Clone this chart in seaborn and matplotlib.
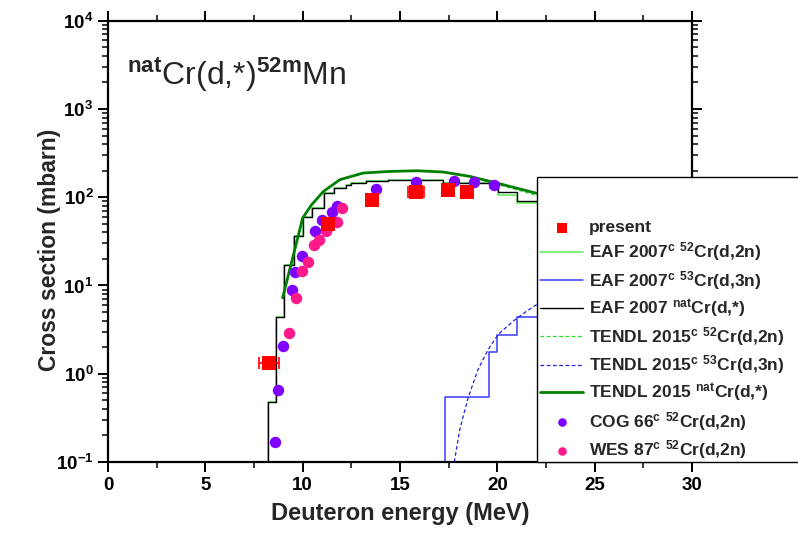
import numpy as np
import pandas as pd
import matplotlib
matplotlib.use('Agg')
import matplotlib.pyplot as plt
import seaborn as sns
from matplotlib.ticker import MultipleLocator, LogLocator, FuncFormatter, NullFormatter
from matplotlib.patches import Rectangle

# ---------------- data ----------------
present_E = [8.28, 11.28, 13.57, 15.82, 17.45, 18.45]
present_xs = [1.33, 50.0, 93.7, 116.0, 121.6, 114.5]
present_dE = [0.5, 0.3, 0.3, 0.42, 0.3, 0.3]

cog_E = [8.56, 8.73, 8.97, 9.47, 9.59, 9.98, 10.63, 10.97, 11.49, 11.74, 13.76, 15.82, 17.79, 18.81, 19.83]
cog_xs = [0.170, 0.652, 2.05, 8.83, 14.4, 21.8, 41.0, 54.7, 67.3, 78.7, 124.8, 148.6, 151.0, 148.6, 138.0]

wes_E = [9.30, 9.64, 9.95, 10.26, 10.58, 10.85, 11.18, 11.74, 12.00]
wes_xs = [2.86, 7.3, 14.5, 18.6, 28.5, 33.0, 41.0, 51.9, 75.5]

# EAF 2007 natCr(d,*)  (histogram: edges / levels)
eaf_nat_E = [8.20, 8.20, 8.61, 9.05, 9.53, 10.00, 10.46, 11.11, 11.62, 12.22, 12.48, 13.25, 14.40, 17.22, 19.62, 20.05, 20.99, 22.50]
eaf_nat_xs = [0.01, 0.477, 4.37, 17.1, 36.0, 59.7, 75.5, 111.7, 127.0, 136.0, 145.0, 151.0, 158.0, 145.0, 126.0, 115.0, 90.0, 90.0]

# EAF 2007 52Cr(d,2n)
eaf_52_E = [8.20, 8.20, 8.61, 9.05, 9.53, 10.00, 10.46, 11.11, 11.62, 12.22, 12.48, 13.25, 14.40, 17.22, 19.62, 20.05, 20.99, 22.50]
eaf_52_xs = [0.01, 0.477, 4.37, 17.1, 36.0, 59.7, 75.5, 111.7, 127.0, 136.0, 145.0, 151.0, 158.0, 145.0, 126.0, 106.0, 85.0, 85.0]

# EAF 2007 53Cr(d,3n)
eaf_53_E = [17.31, 17.31, 19.58, 19.99, 20.99, 22.50]
eaf_53_xs = [0.01, 0.543, 1.77, 2.78, 4.37, 4.37]

# TENDL 2015 natCr(d,*)
tendl_nat_E = [8.97, 9.86, 10.00, 10.46, 11.06, 11.91, 13.11, 14.49, 15.86, 17.22, 18.59, 19.96, 21.67, 22.50]
tendl_nat_xs = [7.24, 43.7, 58.2, 82.2, 116.0, 158.0, 188.0, 196.0, 199.5, 193.0, 172.0, 145.0, 116.0, 104.0]

# TENDL 2015 52Cr(d,2n)
tendl_52_E = [8.97, 9.86, 10.00, 10.46, 11.06, 11.91, 13.11, 14.49, 15.86, 17.22, 18.59, 19.96, 21.67, 22.50]
tendl_52_xs = [7.24, 43.7, 58.2, 82.2, 116.0, 158.0, 188.0, 196.0, 199.5, 192.0, 170.0, 141.0, 110.0, 97.0]

# TENDL 2015 53Cr(d,3n)
tendl_53_E = [17.79, 18.07, 18.50, 19.01, 19.53, 20.04, 20.81, 21.50, 22.02, 22.50]
tendl_53_xs = [0.10, 0.234, 0.535, 1.12, 1.88, 2.78, 3.94, 5.11, 6.08, 6.9]

x_ticks = [0, 5, 10, 15, 20, 25, 30]

# ---------------- style ----------------
sns.set_style('ticks')
plt.rcParams['font.family'] = ['Liberation Sans', 'DejaVu Sans']
plt.rcParams['font.weight'] = 'bold'
plt.rcParams['axes.labelweight'] = 'bold'
plt.rcParams['mathtext.fontset'] = 'custom'
plt.rcParams['mathtext.rm'] = 'Liberation Sans'
plt.rcParams['mathtext.it'] = 'Liberation Sans:italic'
plt.rcParams['mathtext.bf'] = 'Liberation Sans:bold'

W, H = 798, 544
fig = plt.figure(figsize=(W / 100, H / 100), dpi=100)
ax_l, ax_r, ax_t, ax_b = 108, 692, 20.7, 462
ax = fig.add_axes([ax_l / W, 1 - ax_b / H, (ax_r - ax_l) / W, (ax_b - ax_t) / H])
ax.set_yscale('log')

C_RED = '#ff0000'
C_LGREEN = '#66ee66'
C_BLUE = '#3a3aff'
C_DGREEN = '#008000'
C_PURPLE = '#8000ff'
C_PINK = '#ff1a8c'

lab_present = 'present'
lab_eaf52 = r'EAF 2007$^{\mathrm{c}}$ $^{\mathbf{52}}$Cr(d,2n)'
lab_eaf53 = r'EAF 2007$^{\mathrm{c}}$ $^{\mathbf{53}}$Cr(d,3n)'
lab_eafnat = r'EAF 2007 $^{\mathbf{nat}}$Cr(d,*)'
lab_t52 = r'TENDL 2015$^{\mathrm{c}}$ $^{\mathbf{52}}$Cr(d,2n)'
lab_t53 = r'TENDL 2015$^{\mathrm{c}}$ $^{\mathbf{53}}$Cr(d,3n)'
lab_tnat = r'TENDL 2015 $^{\mathbf{nat}}$Cr(d,*)'
lab_cog = r'COG 66$^{\mathrm{c}}$ $^{\mathbf{52}}$Cr(d,2n)'
lab_wes = r'WES 87$^{\mathrm{c}}$ $^{\mathbf{52}}$Cr(d,2n)'

sns.lineplot(x=eaf_52_E, y=eaf_52_xs, drawstyle='steps-post', estimator=None, sort=False,
             color=C_LGREEN, lw=1.2, label=lab_eaf52, ax=ax)
sns.lineplot(x=eaf_53_E, y=eaf_53_xs, drawstyle='steps-post', estimator=None, sort=False,
             color=C_BLUE, lw=1.1, label=lab_eaf53, ax=ax)
sns.lineplot(x=eaf_nat_E, y=eaf_nat_xs, drawstyle='steps-post', estimator=None, sort=False,
             color='black', lw=1.0, label=lab_eafnat, ax=ax)
sns.lineplot(x=tendl_52_E, y=tendl_52_xs, estimator=None, sort=False,
             color='#22dd22', lw=0.9, label=lab_t52, ax=ax)
ax.lines[-1].set_dashes((3, 2))
sns.lineplot(x=tendl_53_E, y=tendl_53_xs, estimator=None, sort=False,
             color='#2222dd', lw=0.9, label=lab_t53, ax=ax)
ax.lines[-1].set_dashes((3, 2))
sns.lineplot(x=tendl_nat_E, y=tendl_nat_xs, estimator=None, sort=False,
             color=C_DGREEN, lw=2.0, label=lab_tnat, ax=ax)

sns.scatterplot(x=cog_E, y=cog_xs, color=C_PURPLE, s=68, linewidth=0, label=lab_cog, ax=ax, zorder=4)
sns.scatterplot(x=wes_E, y=wes_xs, color=C_PINK, s=68, linewidth=0, label=lab_wes, ax=ax, zorder=4)
ax.errorbar(present_E, present_xs, xerr=present_dE, fmt='none', ecolor=C_RED, elinewidth=1.2,
            capsize=4, capthick=1.2, zorder=5)
sns.scatterplot(x=present_E, y=present_xs, color=C_RED, marker='s', s=100, linewidth=0,
                label=lab_present, ax=ax, zorder=6)

# ---------------- axes ----------------
ax.set_xlim(0, 30)
ax.set_ylim(0.1, 1e4)
ax.set_xticks(x_ticks)
ax.set_xticklabels([str(t) for t in x_ticks])
ax.xaxis.set_minor_locator(MultipleLocator(2.5))
ax.yaxis.set_major_locator(LogLocator(base=10, numticks=10))
ax.yaxis.set_minor_locator(LogLocator(base=10, subs=np.arange(2, 10), numticks=20))
ax.yaxis.set_minor_formatter(NullFormatter())
ax.yaxis.set_major_formatter(FuncFormatter(lambda v, p: r'$\mathbf{10^{%d}}$' % int(round(np.log10(v)))))

for sp in ax.spines.values():
    sp.set_visible(True)
    sp.set_linewidth(1.6)
    sp.set_color('black')

ax.tick_params(which='both', direction='out', top=True, right=True, colors='black')
ax.tick_params(which='major', length=7, width=1.4, labelsize=13.5, pad=3.5)
ax.tick_params(which='minor', length=4, width=1.1)

ax.set_xlabel('Deuteron energy (MeV)', fontsize=17, fontweight='bold')
ax.set_ylabel('Cross section (mbarn)', fontsize=16.5, fontweight='bold')
ax.xaxis.set_label_coords(0.5, (ax_b - 502) / (ax_b - ax_t))
ax.yaxis.set_label_coords((61 - ax_l) / (ax_r - ax_l), 0.48)

fig.text(127 / W, 1 - 85 / H, r'$^{\mathbf{nat}}$Cr(d,*)$^{\mathbf{52m}}$Mn',
         fontsize=23, fontweight='normal', va='baseline', ha='left')

# ---------------- legend ----------------
box = Rectangle(((537 - ax_l) / (ax_r - ax_l), 0), 0.6, (ax_b - 177) / (ax_b - ax_t),
                transform=ax.transAxes, facecolor='white', edgecolor='black', lw=1.0,
                clip_on=False, zorder=9)
ax.add_patch(box)

h, l = ax.get_legend_handles_labels()
hmap = dict(zip(l, h))
order = [lab_present, lab_eaf52, lab_eaf53, lab_eafnat, lab_t52, lab_t53, lab_tnat, lab_cog, lab_wes]
leg = ax.legend([hmap[k] for k in order], order, loc='upper left',
                bbox_to_anchor=(540 / W, 1 - 220 / H), bbox_transform=fig.transFigure,
                borderaxespad=0, borderpad=0, labelspacing=0.31, handlelength=2.48,
                handletextpad=0.35, prop={'size': 12.5, 'weight': 'bold'},
                frameon=False, markerscale=0.75)
leg.set_zorder(10)

fig.savefig('out.png', dpi=100)
